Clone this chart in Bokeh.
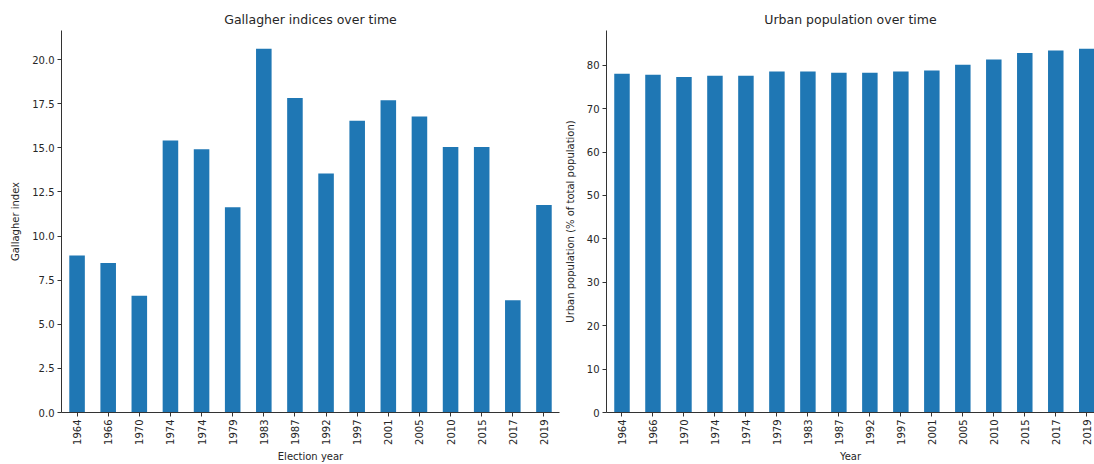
import math

from bokeh.plotting import figure
from bokeh.layouts import row
from bokeh.models import Range1d, FixedTicker, NumeralTickFormatter
from bokeh.embed import file_html
from bokeh.resources import INLINE

# Election years (1974 had two general elections)
years = ["1964", "1966", "1970", "1974", "1974", "1979", "1983", "1987",
         "1992", "1997", "2001", "2005", "2010", "2015", "2017", "2019"]

# Gallagher index of disproportionality per election
gallagher = [8.90, 8.47, 6.62, 15.42, 14.92, 11.63, 20.62, 17.83,
             13.55, 16.54, 17.70, 16.77, 15.05, 15.05, 6.36, 11.76]

# Urban population, % of total population, in each election year
urban_pct = [78.03, 77.80, 77.28, 77.58, 77.58, 78.57, 78.57, 78.27,
             78.27, 78.57, 78.80, 80.10, 81.30, 82.80, 83.36, 83.80]

gallagher_ticks = [0, 2.5, 5, 7.5, 10, 12.5, 15, 17.5, 20]
urban_ticks = [0, 10, 20, 30, 40, 50, 60, 70, 80]

BAR_COLOR = "#1f77b4"
TEXT = "#262626"
FONT = "DejaVu Sans"

x = list(range(len(years)))
labels = {i: y for i, y in enumerate(years)}


def style(p, xlabel, ylabel, yticks, yfmt):
    p.outline_line_color = None
    p.xgrid.visible = False
    p.ygrid.visible = False
    p.title.align = "center"
    p.title.text_font = FONT
    p.title.text_font_size = "12.5px"
    p.title.text_font_style = "normal"
    p.title.text_color = TEXT
    p.title.standoff = 8

    xa = p.xaxis[0]
    xa.ticker = FixedTicker(ticks=x)
    xa.major_label_overrides = labels
    xa.major_label_orientation = math.pi / 2
    xa.axis_label = xlabel

    ya = p.yaxis[0]
    ya.ticker = FixedTicker(ticks=yticks)
    ya.formatter = NumeralTickFormatter(format=yfmt)
    ya.axis_label = ylabel

    for ax in (xa, ya):
        ax.axis_line_color = "#333333"
        ax.axis_line_width = 1
        ax.major_tick_line_color = "#333333"
        ax.major_tick_out = 4
        ax.major_tick_in = 0
        ax.minor_tick_line_color = None
        ax.major_label_text_font = FONT
        ax.major_label_text_font_size = "10px"
        ax.major_label_text_color = TEXT
        ax.major_label_standoff = 3
        ax.axis_label_text_font = FONT
        ax.axis_label_text_font_size = "10px"
        ax.axis_label_text_font_style = "normal"
        ax.axis_label_text_color = TEXT
    xa.axis_label_standoff = 3
    ya.axis_label_standoff = 8


# Left panel: Gallagher index
p1 = figure(width=560, height=464, output_backend="svg", toolbar_location=None,
            title="Gallagher indices over time",
            x_range=Range1d(-0.5, len(years) - 0.5),
            y_range=Range1d(0, max(gallagher) * 1.05),
            min_border_left=61, min_border_right=1,
            min_border_top=30, min_border_bottom=51)
p1.vbar(x=x, top=gallagher, width=0.5, color=BAR_COLOR, line_color=None)
style(p1, "Election year", "Gallagher index", gallagher_ticks, "0.0")

# Right panel: urban population share
p2 = figure(width=534, height=464, output_backend="svg", toolbar_location=None,
            title="Urban population over time",
            x_range=Range1d(-0.5, len(years) - 0.75),
            y_range=Range1d(0, max(urban_pct) * 1.05),
            min_border_left=46, min_border_right=0,
            min_border_top=30, min_border_bottom=51)
p2.vbar(x=x, top=urban_pct, width=0.5, color=BAR_COLOR, line_color=None)
style(p2, "Year", "Urban population (% of total population)", urban_ticks, "0")

layout = row(p1, p2)
open("out.html", "w").write(file_html(layout, INLINE))
